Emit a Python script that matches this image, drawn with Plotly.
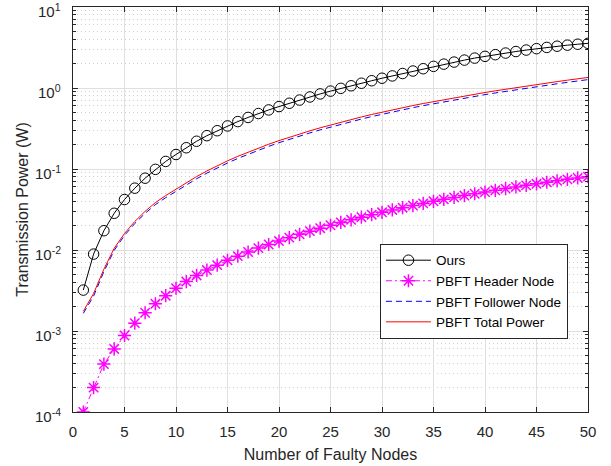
import math
import plotly.graph_objects as go

faulty_nodes = list(range(1, 51))

ours = [0.0032, 0.0089, 0.0173, 0.0284, 0.042, 0.058, 0.077, 0.099, 0.124, 0.151,
        0.183, 0.220, 0.258, 0.297, 0.340, 0.385, 0.433, 0.484, 0.536, 0.590,
        0.648, 0.710, 0.775, 0.845, 0.915, 0.990, 1.065, 1.145, 1.230, 1.320,
        1.41, 1.51, 1.62, 1.73, 1.85, 1.97, 2.09, 2.21, 2.34, 2.46,
        2.58, 2.70, 2.82, 2.94, 3.06, 3.17, 3.28, 3.38, 3.47, 3.56]

pbft_header = [1.0e-4, 2.0e-4, 3.9e-4, 6.0e-4, 8.8e-4, 1.25e-3, 1.68e-3, 2.17e-3, 2.73e-3, 3.37e-3,
               4.08e-3, 4.85e-3, 5.65e-3, 6.5e-3, 7.45e-3, 8.4e-3, 9.45e-3, 1.055e-2, 1.17e-2, 1.29e-2,
               1.42e-2, 1.56e-2, 1.71e-2, 1.86e-2, 2.02e-2, 2.19e-2, 2.36e-2, 2.54e-2, 2.73e-2, 2.92e-2,
               3.12e-2, 3.33e-2, 3.54e-2, 3.76e-2, 3.99e-2, 4.22e-2, 4.46e-2, 4.70e-2, 4.95e-2, 5.20e-2,
               5.46e-2, 5.73e-2, 6.00e-2, 6.28e-2, 6.57e-2, 6.86e-2, 7.15e-2, 7.45e-2, 7.75e-2, 8.05e-2]

pbft_follower = [0.00165, 0.0027, 0.00541, 0.0099, 0.01512, 0.02125, 0.02832, 0.03633, 0.04427, 0.05313,
                 0.06372, 0.07575, 0.08895, 0.1033, 0.11855, 0.135, 0.15235, 0.17085, 0.1905, 0.2111,
                 0.2328, 0.2554, 0.2789, 0.304, 0.3298, 0.3567, 0.3844, 0.4136, 0.4437, 0.4748,
                 0.5058, 0.5377, 0.5716, 0.6054, 0.6401, 0.6758, 0.7124, 0.750, 0.7885, 0.828,
                 0.8684, 0.9097, 0.951, 0.9942, 1.0383, 1.0824, 1.1275, 1.1745, 1.2215, 1.2695]

pbft_total = [0.00175, 0.0029, 0.0058, 0.0105, 0.0160, 0.0225, 0.0300, 0.0385, 0.0470, 0.0565,
              0.0678, 0.0806, 0.0946, 0.1098, 0.126, 0.1434, 0.1618, 0.1814, 0.2022, 0.224,
              0.247, 0.271, 0.296, 0.3226, 0.350, 0.3786, 0.408, 0.439, 0.471, 0.504,
              0.537, 0.571, 0.607, 0.643, 0.680, 0.718, 0.757, 0.797, 0.838, 0.880,
              0.923, 0.967, 1.011, 1.057, 1.104, 1.151, 1.199, 1.249, 1.299, 1.350]

y_tick_vals = [1e-4, 1e-3, 1e-2, 1e-1, 1, 10]
y_tick_text = ["10<sup>-4</sup>", "10<sup>-3</sup>", "10<sup>-2</sup>",
               "10<sup>-1</sup>", "10<sup>0</sup>", "10<sup>1</sup>"]
x_tick_vals = [0, 5, 10, 15, 20, 25, 30, 35, 40, 45, 50]

minor_vals = [m * 10.0 ** e for e in range(-4, 1) for m in range(2, 10)]

AX = "#262626"
FONT = "Liberation Sans, Arial, Helvetica, sans-serif"

fig = go.Figure()
fig.add_trace(go.Scatter(
    x=faulty_nodes, y=ours, name="Ours", mode="lines+markers",
    line=dict(color="black", width=1),
    marker=dict(symbol="circle-open", size=10.5, color="black", line=dict(width=1))))
fig.add_trace(go.Scatter(
    x=faulty_nodes, y=pbft_header, name="PBFT Header Node", mode="lines+markers",
    line=dict(color="#ff00ff", width=1, dash="6px,3px,2px,3px"),
    marker=dict(symbol="asterisk-open", size=11, color="#ff00ff", line=dict(width=1.5, color="#ff00ff"))))
fig.add_trace(go.Scatter(
    x=faulty_nodes, y=pbft_follower, name="PBFT Follower Node", mode="lines",
    line=dict(color="#0000ff", width=1, dash="6px,4px")))
fig.add_trace(go.Scatter(
    x=faulty_nodes, y=pbft_total, name="PBFT Total Power", mode="lines",
    line=dict(color="#ff0000", width=1)))

# y tick labels as text placed through the y axis scale (MATLAB-like baseline offset)
for val, txt in zip(y_tick_vals, y_tick_text):
    fig.add_annotation(x=0, xref="paper", xanchor="right", xshift=-10,
                       y=math.log10(val), yref="y", yanchor="middle", yshift=-3,
                       text=txt, showarrow=False, font=dict(size=15, color=AX))

fig.update_layout(
    width=611, height=466,
    margin=dict(l=73, r=23, t=7, b=54, autoexpand=False),
    paper_bgcolor="white", plot_bgcolor="white",
    font=dict(family=FONT, size=15, color=AX),
    showlegend=True,
    legend=dict(x=0.596, y=0.415, xanchor="left", yanchor="top",
                bgcolor="white", bordercolor=AX, borderwidth=1,
                font=dict(size=13.5, color="black"), itemwidth=45, tracegroupgap=0),
)
fig.update_xaxes(
    range=[0, 50], tickmode="array", tickvals=x_tick_vals,
    showline=True, linecolor=AX, linewidth=1, mirror="allticks",
    ticks="inside", ticklen=5, tickcolor=AX, ticklabelstandoff=6,
    showgrid=True, gridcolor="#dfdfdf", gridwidth=1, zeroline=False,
    tickfont=dict(size=15, color=AX),
    title=dict(text="Number of Faulty Nodes", font=dict(size=16, color=AX), standoff=9),
)
fig.update_yaxes(
    type="log", range=[-4, 1], tickmode="array", tickvals=y_tick_vals, showticklabels=False,
    showline=True, linecolor=AX, linewidth=1, mirror="allticks",
    ticks="inside", ticklen=5, tickcolor=AX,
    showgrid=True, gridcolor="#dfdfdf", gridwidth=1, zeroline=False,
    minor=dict(tickmode="array", tickvals=minor_vals, ticks="inside", ticklen=3,
               tickcolor=AX, showgrid=True, gridcolor="#d0d0d0", griddash="1px,3px", gridwidth=1),
    title=dict(text="Transmission Power (W)", font=dict(size=16, color=AX), standoff=39),
)

fig.write_html("out.html", config={"displayModeBar": False},
               post_script="document.body.style.margin='0';document.body.style.overflow='hidden';")
